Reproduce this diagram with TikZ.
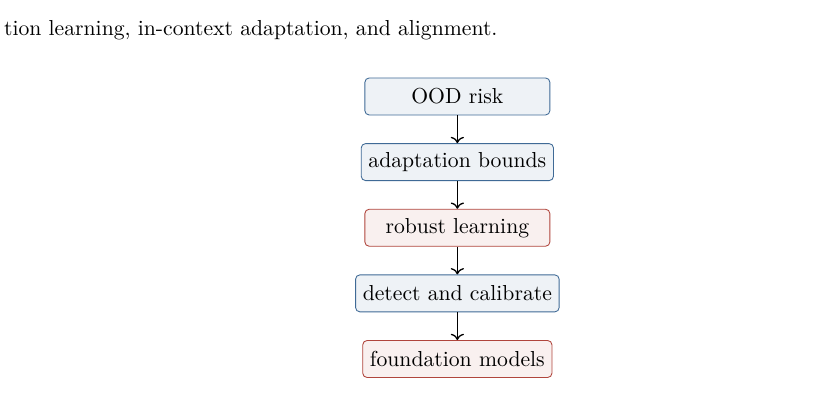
\documentclass[tikz,border=0pt]{standalone}
\usepackage{tikz}
\usetikzlibrary{
    arrows.meta,
    positioning
}
\definecolor{stepblue}{RGB}{63,106,150}
\definecolor{stepred}{RGB}{176,69,60}
\tikzstyle{theory} = [
    rectangle,
    rounded corners=2pt,
    draw=stepblue,
    fill=stepblue!9,
    minimum width=3cm,
    minimum height=0.6cm,
    text centered
]
\tikzstyle{method} = [
    rectangle,
    rounded corners=2pt,
    draw=stepred,
    fill=stepred!8,
    minimum width=3cm,
    minimum height=0.6cm,
    text centered
]
\tikzstyle{arrow} = [
    ->,
    semithick,
    draw=black
]

\begin{document}
\begin{tikzpicture}[node distance=0.45cm]
        \useasboundingbox (0,0) rectangle (13.57,-6.63);

        % Caption line above
        \node[anchor=base west, inner sep=0pt] (caption) at (0.06,-0.57) {
            tion learning, in-context adaptation, and alignment.
        };

        % Chain of steps
        \node[theory] (ood) at (7.415,-1.564) {OOD risk};
        \node[theory, below=of ood] (bounds) {adaptation bounds};
        \node[method, below=of bounds] (robust) {robust learning};
        \node[theory, below=of robust] (detect) {detect and calibrate};
        \node[method, below=of detect] (found) {foundation models};

        % Arrows
        \draw[arrow] (ood) -- (bounds);
        \draw[arrow] (bounds) -- (robust);
        \draw[arrow] (robust) -- (detect);
        \draw[arrow] (detect) -- (found);
    \end{tikzpicture}
\end{document}
